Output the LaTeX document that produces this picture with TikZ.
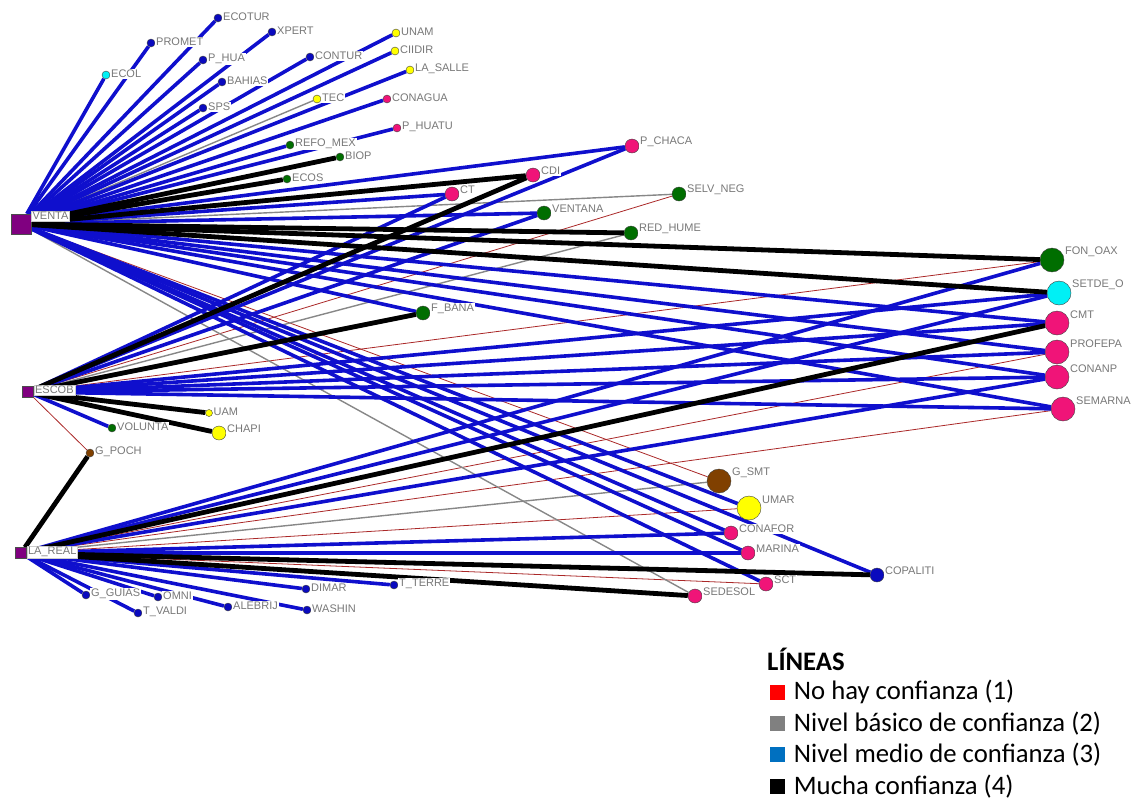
\documentclass[tikz,border=0pt]{standalone}
\usepackage{fontspec}
\setmainfont{Liberation Sans}
\newfontfamily\legendfont{Carlito}
\usetikzlibrary{positioning,backgrounds}

\definecolor{hubpurple}{RGB}{128,0,128}
\definecolor{nodeblue}{RGB}{10,10,190}
\definecolor{nodeyellow}{RGB}{255,255,0}
\definecolor{nodepink}{RGB}{240,20,120}
\definecolor{nodegreen}{RGB}{0,110,0}
\definecolor{nodecyan}{RGB}{0,240,245}
\definecolor{nodebrown}{RGB}{128,64,0}
\definecolor{edgeblue}{RGB}{15,15,205}
\definecolor{edgered}{RGB}{170,40,40}
\definecolor{edgegray}{RGB}{135,135,135}
\definecolor{labelgray}{RGB}{120,120,120}
\definecolor{legendred}{RGB}{255,0,0}
\definecolor{legendgray}{RGB}{128,128,128}
\definecolor{legendblue}{RGB}{0,112,192}

\begin{document}
\begin{tikzpicture}[x=1pt, y=-1pt,
hub/.style={rectangle, draw=black!70, fill=hubpurple, inner sep=0pt, label distance=1.5pt},
actor_s/.style={circle, draw=black!75, inner sep=0pt, minimum size=8pt, label distance=4.5pt},
actor_m/.style={circle, draw=black!75, inner sep=0pt, minimum size=14pt, label distance=4pt},
actor_l/.style={circle, draw=black!75, inner sep=0pt, minimum size=24pt, label distance=3.5pt},
lbl/.style={font=\fontsize{11}{11}\selectfont, text=labelgray, fill=white, inner sep=0.8pt},
lbl_s/.style={lbl, yshift=1pt},
lbl_m/.style={lbl, yshift=4pt},
lbl_l/.style={lbl, yshift=8pt},
hub_lbl/.style={lbl, draw=black!20, inner sep=1.2pt},
no_conf/.style={draw=edgered, line width=0.8pt},
basic_conf/.style={draw=edgegray, line width=1.4pt},
mid_conf/.style={draw=edgeblue, line width=3.6pt},
high_conf/.style={draw=black, line width=4.8pt},
legend_box/.style={rectangle, minimum size=15pt, inner sep=0pt},
legend_text/.style={font=\legendfont\fontsize{26.7}{26.7}\selectfont, inner sep=0pt},
]
\useasboundingbox (0,0) rectangle (1135,804);

% the three groups
\node[hub, minimum size=20pt, label={[hub_lbl, yshift=8pt]0:VENTA}](venta) at (21,224){};
\node[hub, minimum size=11pt, label={[hub_lbl, yshift=2pt]0:ESCOB}](escob) at (28,392){};
\node[hub, minimum size=11pt, label={[hub_lbl, yshift=1pt]0:LA\_REAL}](la_real) at (21,553){};

% small actors around VENTA
\node[actor_s, fill=nodeblue, label={[lbl_s]0:ECOTUR}](ecotur) at (218,18){};
\node[actor_s, fill=nodeblue, label={[lbl_s]0:XPERT}](xpert) at (272,32){};
\node[actor_s, fill=nodeblue, label={[lbl_s]0:PROMET}](promet) at (151,43){};
\node[actor_s, fill=nodeyellow, label={[lbl_s]0:UNAM}](unam) at (396,33){};
\node[actor_s, fill=nodeyellow, label={[lbl_s]0:CIIDIR}](ciidir) at (395,51){};
\node[actor_s, fill=nodeblue, label={[lbl_s]0:P\_HUA}](p_hua) at (203,60){};
\node[actor_s, fill=nodeblue, label={[lbl_s]0:CONTUR}](contur) at (310,57){};
\node[actor_s, fill=nodecyan, label={[lbl_s]0:ECOL}](ecol) at (106,75){};
\node[actor_s, fill=nodeyellow, label={[lbl_s]0:LA\_SALLE}](la_salle) at (410,70){};
\node[actor_s, fill=nodeblue, label={[lbl_s]0:BAHIAS}](bahias) at (222,82){};
\node[actor_s, fill=nodeblue, label={[lbl_s]0:SPS}](sps) at (203,108){};
\node[actor_s, fill=nodeyellow, label={[lbl_s]0:TEC}](tec) at (317,99){};
\node[actor_s, fill=nodepink, label={[lbl_s]0:CONAGUA}](conagua) at (387,99){};
\node[actor_s, fill=nodepink, label={[lbl_s]0:P\_HUATU}](p_huatu) at (397,128){};
\node[actor_s, fill=nodegreen, label={[lbl_s]0:REFO\_MEX}](refo_mex) at (290,145){};
\node[actor_s, fill=nodegreen, label={[lbl_s]0:BIOP}](biop) at (340,157){};
\node[actor_s, fill=nodegreen, label={[lbl_s]0:ECOS}](ecos) at (287,179){};

% middle actors
\node[actor_m, fill=nodepink, label={[lbl_m]0:P\_CHACA}](p_chaca) at (632,146){};
\node[actor_m, fill=nodepink, label={[lbl_m]0:CDI}](cdi) at (533,175){};
\node[actor_m, fill=nodepink, label={[lbl_m]0:CT}](ct) at (452,194){};
\node[actor_m, fill=nodegreen, label={[lbl_m]0:SELV\_NEG}](selv_neg) at (679,194){};
\node[actor_m, fill=nodegreen, label={[lbl_m]0:VENTANA}](ventana) at (544,213){};
\node[actor_m, fill=nodegreen, label={[lbl_m]0:RED\_HUME}](red_hume) at (631,233){};
\node[actor_m, fill=nodegreen, label={[lbl_m]0:F\_BANA}](f_bana) at (423,313){};

% big actors on the right
\node[actor_l, fill=nodegreen, label={[lbl_l]0:FON\_OAX}](fon_oax) at (1052,260){};
\node[actor_l, fill=nodecyan, label={[lbl_l]0:SETDE\_O}](setde_o) at (1059,293){};
\node[actor_l, fill=nodepink, label={[lbl_l]0:CMT}](cmt) at (1057,323){};
\node[actor_l, fill=nodepink, label={[lbl_l]0:PROFEPA}](profepa) at (1057,352){};
\node[actor_l, fill=nodepink, label={[lbl_l]0:CONANP}](conanp) at (1057,377){};
\node[actor_l, fill=nodepink, label={[lbl_l]0:SEMARNA}](semarna) at (1063,409){};

% around ESCOB
\node[actor_s, minimum size=7pt, fill=nodeyellow, label={[lbl_s]0:UAM}](uam) at (209,413){};
\node[actor_s, fill=nodegreen, label={[lbl_s]0:VOLUNTA}](volunta) at (112,428){};
\node[actor_m, fill=nodeyellow, label={[lbl_m]0:CHAPI}](chapi) at (219,433){};
\node[actor_s, fill=nodebrown, label={[lbl_s]0:G\_POCH}](g_poch) at (90,453){};

% lower right actors
\node[actor_l, fill=nodebrown, label={[lbl_l]0:G\_SMT}](g_smt) at (719,481){};
\node[actor_l, fill=nodeyellow, label={[lbl_l]0:UMAR}](umar) at (749,508){};
\node[actor_m, fill=nodepink, label={[lbl_m]0:CONAFOR}](conafor) at (731,533){};
\node[actor_m, fill=nodepink, label={[lbl_m]0:MARINA}](marina) at (748,553){};
\node[actor_m, fill=nodepink, label={[lbl_m]0:SCT}](sct) at (766,584){};
\node[actor_m, fill=nodepink, label={[lbl_m]0:SEDESOL}](sedesol) at (695,596){};
\node[actor_m, fill=nodeblue, label={[lbl_m]0:COPALITI}](copaliti) at (877,575){};

% around LA_REAL
\node[actor_s, fill=nodeblue, label={[lbl_s]0:G\_GUIAS}](g_guias) at (86,595){};
\node[actor_s, fill=nodeblue, label={[lbl_s]0:T\_VALDI}](t_valdi) at (138,613){};
\node[actor_s, fill=nodeblue, label={[lbl_s]0:OMNI}](omni) at (158,597){};
\node[actor_s, fill=nodeblue, label={[lbl_s]0:ALEBRIJ}](alebrij) at (228,607){};
\node[actor_s, fill=nodeblue, label={[lbl_s]0:DIMAR}](dimar) at (306,589){};
\node[actor_s, fill=nodeblue, label={[lbl_s]0:WASHIN}](washin) at (307,610){};
\node[actor_s, fill=nodeblue, label={[lbl_s]0:T\_TERRE}](t_terre) at (394,585){};

% ties, behind the actors and their labels
\begin{scope}[on background layer]
% no trust
\draw[no_conf] (venta) -- (g_smt);
\draw[no_conf] (escob) -- (selv_neg);
\draw[no_conf] (escob) -- (fon_oax);
\draw[no_conf] (escob) -- (g_poch);
\draw[no_conf] (la_real) -- (profepa);
\draw[no_conf] (la_real) -- (semarna);
\draw[no_conf] (la_real) -- (umar);
\draw[no_conf] (la_real) -- (sct);

% basic trust
\draw[basic_conf] (venta) -- (tec);
\draw[basic_conf] (venta) -- (selv_neg);
\draw[basic_conf] (venta) -- (sedesol);
\draw[basic_conf] (escob) -- (red_hume);
\draw[basic_conf] (la_real) -- (g_smt);

% medium trust
\draw[mid_conf] (venta) -- (ecotur);
\draw[mid_conf] (venta) -- (xpert);
\draw[mid_conf] (venta) -- (promet);
\draw[mid_conf] (venta) -- (unam);
\draw[mid_conf] (venta) -- (ciidir);
\draw[mid_conf] (venta) -- (p_hua);
\draw[mid_conf] (venta) -- (contur);
\draw[mid_conf] (venta) -- (ecol);
\draw[mid_conf] (venta) -- (la_salle);
\draw[mid_conf] (venta) -- (bahias);
\draw[mid_conf] (venta) -- (sps);
\draw[mid_conf] (venta) -- (conagua);
\draw[mid_conf] (venta) -- (p_huatu);
\draw[mid_conf] (venta) -- (refo_mex);
\draw[mid_conf] (venta) -- (p_chaca);
\draw[mid_conf] (venta) -- (ct);
\draw[mid_conf] (venta) -- (ventana);
\draw[mid_conf] (venta) -- (f_bana);
\draw[mid_conf] (venta) -- (cmt);
\draw[mid_conf] (venta) -- (profepa);
\draw[mid_conf] (venta) -- (conanp);
\draw[mid_conf] (venta) -- (semarna);
\draw[mid_conf] (venta) -- (umar);
\draw[mid_conf] (venta) -- (conafor);
\draw[mid_conf] (venta) -- (marina);
\draw[mid_conf] (venta) -- (sct);
\draw[mid_conf] (venta) -- (copaliti);
\draw[mid_conf] (escob) -- (ct);
\draw[mid_conf] (escob) -- (p_chaca);
\draw[mid_conf] (escob) -- (ventana);
\draw[mid_conf] (escob) -- (setde_o);
\draw[mid_conf] (escob) -- (cmt);
\draw[mid_conf] (escob) -- (profepa);
\draw[mid_conf] (escob) -- (conanp);
\draw[mid_conf] (escob) -- (semarna);
\draw[mid_conf] (escob) -- (volunta);
\draw[mid_conf] (la_real) -- (fon_oax);
\draw[mid_conf] (la_real) -- (setde_o);
\draw[mid_conf] (la_real) -- (conanp);
\draw[mid_conf] (la_real) -- (conafor);
\draw[mid_conf] (la_real) -- (marina);
\draw[mid_conf] (la_real) -- (t_terre);
\draw[mid_conf] (la_real) -- (g_guias);
\draw[mid_conf] (la_real) -- (t_valdi);
\draw[mid_conf] (la_real) -- (omni);
\draw[mid_conf] (la_real) -- (alebrij);
\draw[mid_conf] (la_real) -- (dimar);
\draw[mid_conf] (la_real) -- (washin);

% a lot of trust
\draw[high_conf] (venta) -- (biop);
\draw[high_conf] (venta) -- (ecos);
\draw[high_conf] (venta) -- (cdi);
\draw[high_conf] (venta) -- (red_hume);
\draw[high_conf] (venta) -- (fon_oax);
\draw[high_conf] (venta) -- (setde_o);
\draw[high_conf] (escob) -- (cdi);
\draw[high_conf] (escob) -- (f_bana);
\draw[high_conf] (escob) -- (uam);
\draw[high_conf] (escob) -- (chapi);
\draw[high_conf] (la_real) -- (cmt);
\draw[high_conf] (la_real) -- (copaliti);
\draw[high_conf] (la_real) -- (sedesol);
\draw[high_conf] (la_real) -- (g_poch);
\end{scope}

% legend
\node[legend_text, anchor=west](legend_title) at (767,659){\bfseries LÍNEAS};
\node[legend_box, fill=legendred](box_none) at (777,692){};
\node[legend_box, fill=legendgray](box_basic)[below=16pt of box_none]{};
\node[legend_box, fill=legendblue](box_mid)[below=16pt of box_basic]{};
\node[legend_box, fill=black](box_high)[below=16pt of box_mid]{};
\node[legend_text](text_none)[right=9pt of box_none]{No hay confianza (1)};
\node[legend_text](text_basic)[right=9pt of box_basic]{Nivel básico de confianza (2)};
\node[legend_text](text_mid)[right=9pt of box_mid]{Nivel medio de confianza (3)};
\node[legend_text](text_high)[right=9pt of box_high]{Mucha confianza (4)};

\end{tikzpicture}
\end{document}
